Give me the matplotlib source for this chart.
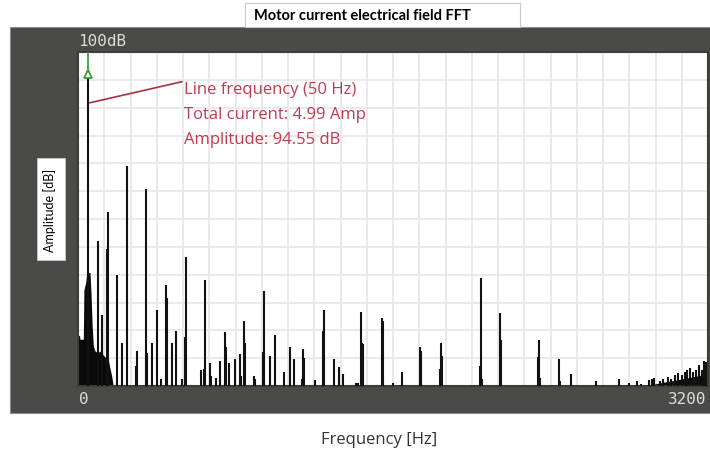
import numpy as np
import matplotlib.pyplot as plt
from matplotlib.patches import Rectangle

# spectrum peaks: frequency [Hz], amplitude [dB]
peak_hz = [50, 100, 124, 150, 146, 198, 222, 247, 301, 296, 345, 350, 378, 400, 420,
           445, 450, 476, 499, 530, 548, 543, 625, 647, 642, 670, 676, 701, 723,
           747, 752, 769, 799, 821, 826, 843, 848, 894, 899, 946, 941, 977, 1002,
           1046, 1075, 1099, 1141, 1146, 1136, 1204, 1249, 1244, 1302, 1324, 1348,
           1410, 1420, 1437, 1442, 1447, 1542, 1547, 1600, 1647, 1737, 1742, 1842,
           1847, 1837, 2045, 2040, 2050, 2142, 2147, 2343, 2338, 2348, 2443, 2448,
           2502, 2629, 2748, 2800, 2840, 2860,
           2900, 2914, 2926, 2956, 2973, 2997, 3010, 3032, 3048, 3066, 3083, 3094,
           3109, 3122, 3137, 3156, 3168, 3180, 3190]
peak_db = [94.55, 43.5, 21.3, 52.0, 41.0, 33.2, 12.9, 65.9, 10.5, 6.0, 58.9, 10.0, 12.9, 22.8, 2.0,
           30.2, 26.3, 12.8, 16.5, 2.0, 38.7, 14.8, 4.8, 31.7, 5.0, 6.9, 3.0, 2.5, 7.6,
           16.3, 11.7, 6.8, 8.0, 9.5, 3.0, 19.5, 12.9, 3.0, 2.0, 28.5, 10.1, 9.0, 15.3,
           4.3, 11.6, 8.0, 11.0, 8.5, 2.0, 1.7, 22.8, 16.4, 8.0, 5.8, 3.6,
           1.0, 1.0, 22.3, 12.9, 12.5, 20.3, 19.5, 1.0, 4.3, 11.8, 10.5, 12.8,
           9.0, 5.0, 32.4, 6.0, 2.0, 21.8, 13.8, 13.8, 8.8, 2.5, 8.0, 1.5,
           3.6, 1.5, 2.0, 0.8, 1.5, 0.5,
           1.7, 2.2, 2.5, 1.5, 2.0, 2.6, 2.2, 3.3, 4.0, 3.3, 4.3, 4.8,
           5.5, 4.3, 4.8, 6.3, 4.8, 7.6, 7.3]

# low frequency noise floor and high frequency noise floor
low_hz = [0, 8, 10, 27, 30, 39, 45, 61, 66, 72, 78, 86, 100, 115, 125, 140, 154, 160, 171, 179]
low_db = [15.3, 15, 14, 14, 28.8, 31, 34, 34, 28, 18, 12, 10.5, 10, 10.5, 9.5, 8.5, 8, 6, 3, 0]
high_hz = [2900, 2920, 2980, 3040, 3100, 3160, 3200]
high_db = [0, 0.5, 1.2, 1.8, 2.5, 3.2, 3.6]

W, H = 710, 454
fig = plt.figure(figsize=(W / 100, H / 100), dpi=100)

def fx(x):
    return x / W

def fy(y):
    return 1 - y / H

# dark frame behind the plot
fig.patches.append(Rectangle((fx(10), fy(413)), 702 / W, 386 / H, transform=fig.transFigure,
                             facecolor='#4a4a48', edgecolor='#8c8c8c', lw=0.8, zorder=-2))
# title box
fig.patches.append(Rectangle((fx(245), fy(27)), 275 / W, 24 / H, transform=fig.transFigure,
                             facecolor='white', edgecolor='#c8c8c8', lw=0.8, zorder=-2))
fig.text(fx(254), fy(16), 'Motor current electrical field FFT', fontsize=10.5,
         fontweight='bold', family='Lato', ha='left', va='center', color='black')
# y label box
fig.patches.append(Rectangle((fx(37), fy(260)), 28 / W, 102 / H, transform=fig.transFigure,
                             facecolor='white', edgecolor='#c8c8c8', lw=0.6, zorder=-1))
fig.text(fx(49.5), fy(210), 'Amplitude [dB]', rotation=90, fontsize=9, family='Lato',
         ha='center', va='center', color='black', zorder=2)

ax = fig.add_axes([fx(78), fy(386), 630 / W, 334 / H])
ax.set_zorder(3)
ax.set_facecolor('white')
ax.set_xlim(0, 3200)
ax.set_ylim(0, 100)
ax.set_xticks(np.linspace(0, 3200, 25))
ax.set_yticks(np.linspace(0, 100, 13))
ax.tick_params(length=0, labelbottom=False, labelleft=False)
ax.grid(True, color='#e6e6ea', lw=1.2)
ax.set_axisbelow(True)
for s in ax.spines.values():
    s.set_color('#3c3c3a')
    s.set_linewidth(1.5)

ax.fill_between(low_hz, 0, low_db, color='#0a0a0a', lw=0, zorder=2)
ax.fill_between(high_hz, 0, high_db, color='#0a0a0a', lw=0, zorder=2)
ax.vlines(peak_hz, 0, peak_db, color='#111111', lw=1.5, zorder=3)

# marker on the line frequency peak
ax.plot([50, 50], [94.5, 100], color='#3a9a3a', lw=1.2, zorder=4)
ax.plot(50, 93.4, marker='^', ms=6, mfc='white', mec='#3a9a3a', mew=1.3, zorder=5)

ax.plot([61, 527], [84.8, 91.1], color='#a8303f', lw=1.2, zorder=4)
note_col = '#c23a4d'
ax.text(538, 88.6, 'Line frequency (50 Hz)', color=note_col, fontsize=12, family='Open Sans',
        va='center', ha='left')
ax.text(538, 81.1, 'Total current: 4.99 Amp', color=note_col, fontsize=12, family='Open Sans',
        va='center', ha='left')
ax.text(538, 73.7, 'Amplitude: 94.55 dB', color=note_col, fontsize=12, family='Open Sans',
        va='center', ha='left')

lab_col = '#dcdcdc'
fig.text(fx(78), fy(41), '100dB', color=lab_col, fontsize=11.5, family='DejaVu Sans Mono',
         ha='left', va='center')
fig.text(fx(79), fy(400), '0', color=lab_col, fontsize=11.5, family='DejaVu Sans Mono',
         ha='left', va='center')
fig.text(fx(706), fy(400), '3200', color=lab_col, fontsize=11.5, family='DejaVu Sans Mono',
         ha='right', va='center')

fig.text(fx(379), fy(440), 'Frequency [Hz]', color='#333333', fontsize=12, family='Open Sans',
         ha='center', va='center')

fig.savefig('out.png', dpi=100)
